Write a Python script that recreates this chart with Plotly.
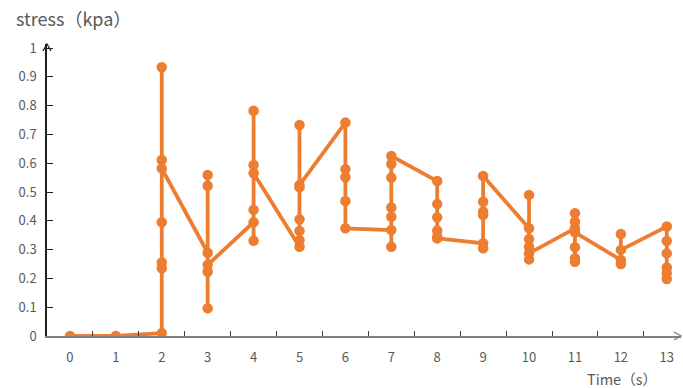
import plotly.graph_objects as go

# Time axis categories (seconds)
time_labels = [str(i) for i in range(14)]

# Recorded samples, in the order they were taken: time stamp and stress (kPa)
time_s = (
    [0, 1]
    + [2] * 7
    + [3] * 6
    + [4] * 6
    + [5] * 7
    + [6] * 5
    + [7] * 7
    + [8] * 6
    + [9] * 6
    + [10] * 6
    + [11] * 7
    + [12] * 4
    + [13] * 6
)
stress_kpa = (
    [0.0, 0.0]
    + [0.01, 0.235, 0.255, 0.395, 0.933, 0.611, 0.582]
    + [0.289, 0.559, 0.522, 0.096, 0.223, 0.247]
    + [0.395, 0.331, 0.782, 0.594, 0.438, 0.565]
    + [0.31, 0.333, 0.365, 0.405, 0.733, 0.516, 0.524]
    + [0.741, 0.579, 0.551, 0.469, 0.374]
    + [0.368, 0.31, 0.414, 0.446, 0.55, 0.597, 0.625]
    + [0.538, 0.458, 0.412, 0.366, 0.345, 0.339]
    + [0.322, 0.305, 0.42, 0.432, 0.466, 0.556]
    + [0.374, 0.49, 0.337, 0.31, 0.266, 0.287]
    + [0.374, 0.426, 0.397, 0.308, 0.27, 0.258, 0.36]
    + [0.264, 0.25, 0.354, 0.299]
    + [0.38, 0.33, 0.287, 0.238, 0.218, 0.198]
)

ORANGE = "#ED7D31"
TEXT = "#595959"
FONT = "Noto Sans CJK SC, DejaVu Sans, sans-serif"

fig = go.Figure(
    go.Scatter(
        x=[str(t) for t in time_s],
        y=stress_kpa,
        mode="lines+markers",
        line=dict(color=ORANGE, width=3.8),
        marker=dict(color=ORANGE, size=10.5),
        hoverinfo="x+y",
    )
)

fig.update_xaxes(
    type="category",
    categoryorder="array",
    categoryarray=time_labels,
    range=[-0.5, 13.31],
    tickson="boundaries",
    ticks="inside",
    ticklen=5,
    tickwidth=1,
    tickcolor="#404040",
    showline=True,
    linecolor="#7f7f7f",
    linewidth=1.8,
    showgrid=False,
    zeroline=False,
    tickfont=dict(family=FONT, size=13, color=TEXT),
    ticklabelstandoff=8,
)
fig.update_yaxes(
    range=[0, 1.014],
    dtick=0.1,
    tick0=0,
    ticks="inside",
    ticklen=6,
    tickwidth=1,
    tickcolor="#202020",
    showline=True,
    linecolor="#202020",
    linewidth=1.5,
    showgrid=False,
    zeroline=False,
    tickfont=dict(family=FONT, size=13, color=TEXT),
    ticklabelstandoff=6,
)

# Open arrowheads at the ends of both axes
fig.add_shape(
    type="path", xref="paper", yref="paper",
    xsizemode="pixel", ysizemode="pixel", xanchor=0, yanchor=1,
    path="M -4,-7 L 0,0 L 4,-7", line=dict(color="#202020", width=1.3),
)
fig.add_shape(
    type="path", xref="paper", yref="paper",
    xsizemode="pixel", ysizemode="pixel", xanchor=1, yanchor=0,
    path="M -7,4 L 0,0 L -7,-4", line=dict(color="#7f7f7f", width=1.3),
)

fig.add_annotation(
    text="stress（kpa）", xref="paper", yref="paper",
    x=-0.052, y=1.089, xanchor="left", yanchor="middle", showarrow=False,
    font=dict(family=FONT, size=18, color=TEXT),
)
fig.add_annotation(
    text="Time（s）", xref="paper", yref="paper",
    x=0.849, y=-0.144, xanchor="left", yanchor="middle", showarrow=False,
    font=dict(family=FONT, size=14.5, color=TEXT),
)

fig.update_layout(
    width=683,
    height=388,
    margin=dict(l=47, r=2, t=44, b=52),
    paper_bgcolor="white",
    plot_bgcolor="white",
    showlegend=False,
)

fig.write_html("out.html")
